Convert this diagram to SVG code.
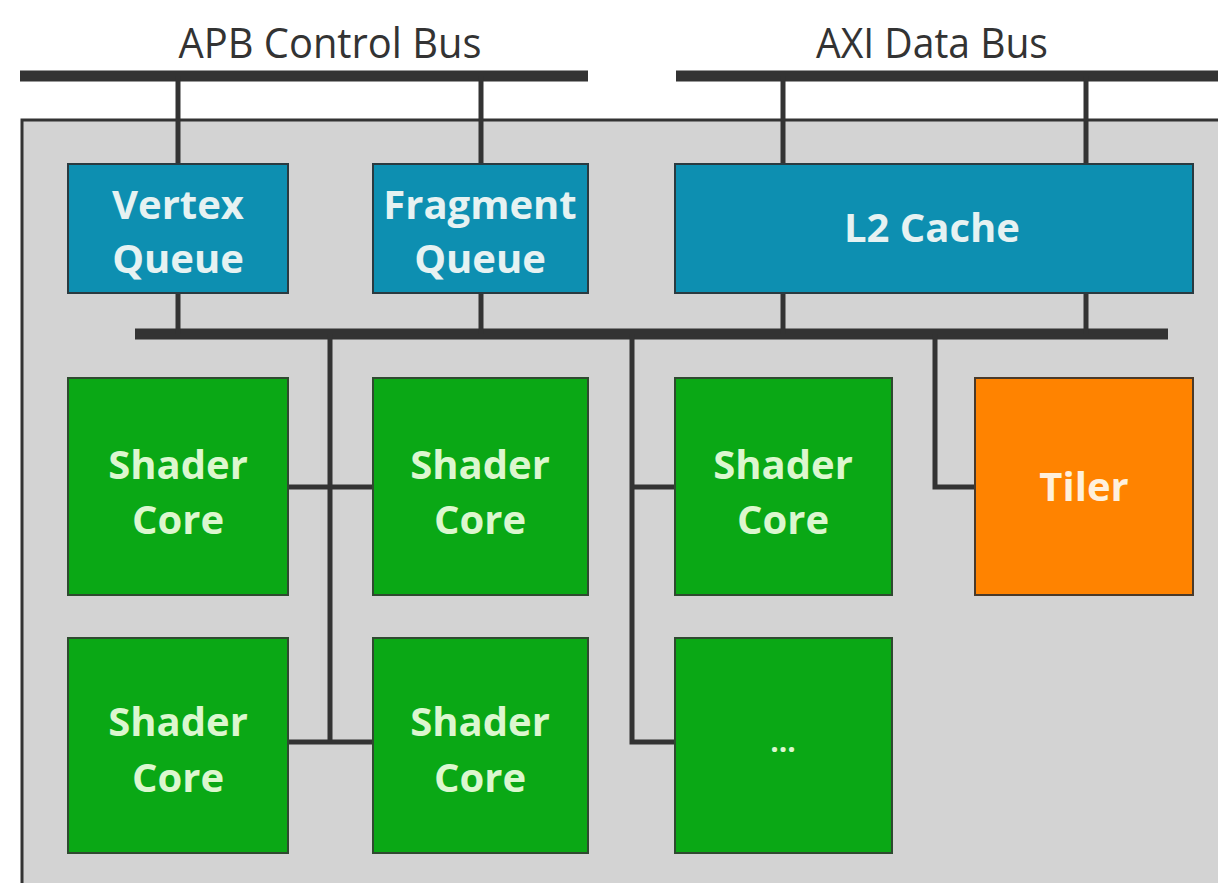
<svg xmlns="http://www.w3.org/2000/svg" width="1218" height="883" viewBox="0 0 1218 883">
<style>
.title{font-family:"Open Sans","Liberation Sans",sans-serif;font-size:42px;fill:#333;text-anchor:middle}
.lbl{font-family:"Open Sans","Liberation Sans",sans-serif;font-size:40px;font-weight:700;text-anchor:middle}
.bus{stroke:#333;stroke-width:11;fill:none}
.wire{stroke:#333;stroke-width:5;fill:none}
.blue{fill:#0d8fb1;stroke:#2a3a40;stroke-width:2}
.green{fill:#0aa815;stroke:#2f4a30;stroke-width:2}
.orange{fill:#ff8300;stroke:#4a3a2a;stroke-width:2}
.tb{fill:#e6f2f2}.tg{fill:#dcf7cf}.to{fill:#fff0dc}
</style>
<rect width="1218" height="883" fill="#fff"/>
<rect id="chip" x="22" y="120" width="1210" height="780" fill="#d3d3d3" stroke="#333" stroke-width="3"/>
<text class="title" x="330" y="58" textLength="303" lengthAdjust="spacingAndGlyphs">APB Control Bus</text>
<text class="title" x="932" y="58" textLength="232" lengthAdjust="spacingAndGlyphs">AXI Data Bus</text>
<g id="connectors">
<line class="bus" x1="20" y1="76" x2="588" y2="76"/>
<line class="bus" x1="676" y1="76" x2="1218" y2="76"/>
<line class="wire" x1="178" y1="76" x2="178" y2="164"/>
<line class="wire" x1="481" y1="76" x2="481" y2="164"/>
<line class="wire" x1="783" y1="76" x2="783" y2="164"/>
<line class="wire" x1="1086" y1="76" x2="1086" y2="164"/>
<line class="bus" x1="135" y1="334" x2="1168" y2="334"/>
<line class="wire" x1="178" y1="292" x2="178" y2="334"/>
<line class="wire" x1="481" y1="292" x2="481" y2="334"/>
<line class="wire" x1="783" y1="292" x2="783" y2="334"/>
<line class="wire" x1="1086" y1="292" x2="1086" y2="334"/>
<polyline class="wire" points="330,334 330,742"/>
<polyline class="wire" points="288,487 373,487"/>
<polyline class="wire" points="288,742 373,742"/>
<polyline class="wire" points="632,334 632,742 675,742"/>
<polyline class="wire" points="632,487 675,487"/>
<polyline class="wire" points="935,334 935,487 975,487"/>
</g>
<g id="vertex-queue"><rect class="blue" x="68" y="164" width="220" height="129"/><text class="lbl tb" x="178" y="219">Vertex</text><text class="lbl tb" x="178" y="273">Queue</text></g>
<g id="fragment-queue"><rect class="blue" x="373" y="164" width="215" height="129"/><text class="lbl tb" x="480" y="219">Fragment</text><text class="lbl tb" x="480" y="273">Queue</text></g>
<g id="l2-cache"><rect class="blue" x="675" y="164" width="518" height="129"/><text class="lbl tb" x="932" y="242">L2 Cache</text></g>
<g id="shader-core-1"><rect class="green" x="68" y="378" width="220" height="217"/><text class="lbl tg" x="178" y="479">Shader</text><text class="lbl tg" x="178" y="534">Core</text></g>
<g id="shader-core-2"><rect class="green" x="373" y="378" width="215" height="217"/><text class="lbl tg" x="480" y="479">Shader</text><text class="lbl tg" x="480" y="534">Core</text></g>
<g id="shader-core-3"><rect class="green" x="675" y="378" width="217" height="217"/><text class="lbl tg" x="783" y="479">Shader</text><text class="lbl tg" x="783" y="534">Core</text></g>
<g id="tiler"><rect class="orange" x="975" y="378" width="218" height="217"/><text class="lbl to" x="1084" y="501">Tiler</text></g>
<g id="shader-core-4"><rect class="green" x="68" y="638" width="220" height="215"/><text class="lbl tg" x="178" y="736">Shader</text><text class="lbl tg" x="178" y="792">Core</text></g>
<g id="shader-core-5"><rect class="green" x="373" y="638" width="215" height="215"/><text class="lbl tg" x="480" y="736">Shader</text><text class="lbl tg" x="480" y="792">Core</text></g>
<g id="ellipsis"><rect class="green" x="675" y="638" width="217" height="215"/><text class="lbl tg" x="783" y="752" style="font-size:30px">...</text></g>
</svg>
